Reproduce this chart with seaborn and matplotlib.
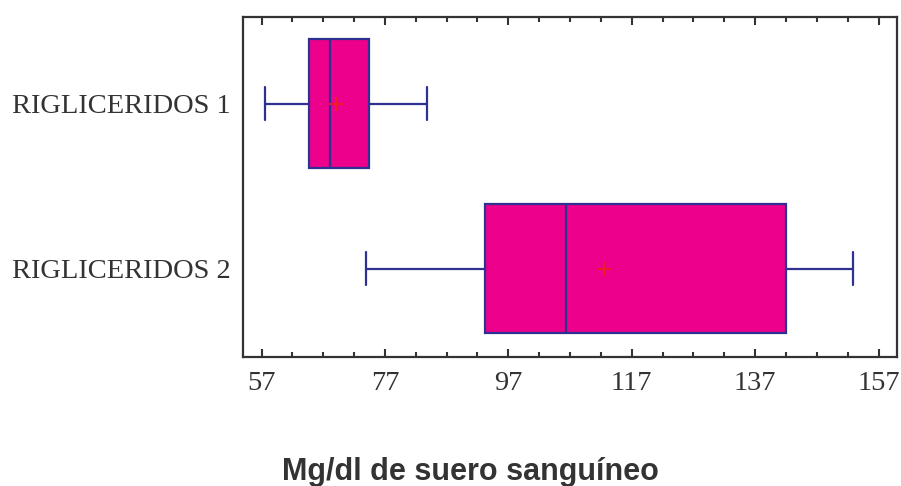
import numpy as np
import pandas as pd
import seaborn as sns
import matplotlib.pyplot as plt

# %% data: five-number summaries
groups = ['RIGLICERIDOS 1', 'RIGLICERIDOS 2']
whisker_low = [57.6, 74.0]
q1 = [64.7, 93.3]
median = [68.1, 106.4]
q3 = [74.4, 142.0]
whisker_high = [83.9, 152.9]
means = [69.0, 112.5]

major_ticks = [57, 77, 97, 117, 137, 157]
minor_ticks = [62, 67, 72, 82, 87, 92, 102, 107, 112, 122, 127, 132, 142, 147, 152]

# long-form table, one row per summary value (whis=(0, 100) puts whiskers at min/max)
df = pd.DataFrame({
    'grupo': np.repeat(groups, 5),
    'valor': np.column_stack([whisker_low, q1, median, q3, whisker_high]).ravel(),
})
mean_df = pd.DataFrame({'grupo': groups, 'media': means})

# %% style
sns.set_style('white')
plt.rcParams['font.family'] = ['Liberation Serif', 'DejaVu Serif']

navy = '#2E3192'
magenta = '#EC008C'
dark = '#333333'

fig = plt.figure(figsize=(9.01, 4.86), dpi=100)
ax = fig.add_axes([0.2697, 0.2654, 0.7259, 0.6996])

sns.boxplot(data=df, x='valor', y='grupo', order=groups, orient='h',
            whis=(0, 100), width=0.785, color=magenta, saturation=1,
            linecolor=navy, linewidth=1.6, capwidths=0.2, ax=ax)
sns.scatterplot(data=mean_df, x='media', y='grupo', marker='+', s=115,
                color='#ED1C24', linewidth=1.4, zorder=5, ax=ax)

ax.set_xlim(54, 160)
ax.set_ylim(1.535, -0.525)
ax.set_xticks(major_ticks)
ax.set_xticks(minor_ticks, minor=True)
ax.tick_params(axis='x', which='both', direction='in', top=True, bottom=True,
               color=dark, width=1.5, labelsize=20.5, labelcolor=dark, pad=10)
ax.tick_params(axis='x', which='major', length=6)
ax.tick_params(axis='x', which='minor', length=3.5)
ax.tick_params(axis='y', left=False, labelsize=20.5, labelcolor=dark, pad=5.5)
for s in ax.spines.values():
    s.set_visible(True)
    s.set_color(dark)
    s.set_linewidth(1.6)
ax.set_xlabel('')
ax.set_ylabel('')

fig.text(0.522, 0.013, 'Mg/dl de suero sanguíneo', ha='center', va='baseline',
         fontsize=22, fontweight='bold', color=dark,
         family=['Liberation Sans', 'DejaVu Sans'])

fig.savefig('out.png', dpi=100)
